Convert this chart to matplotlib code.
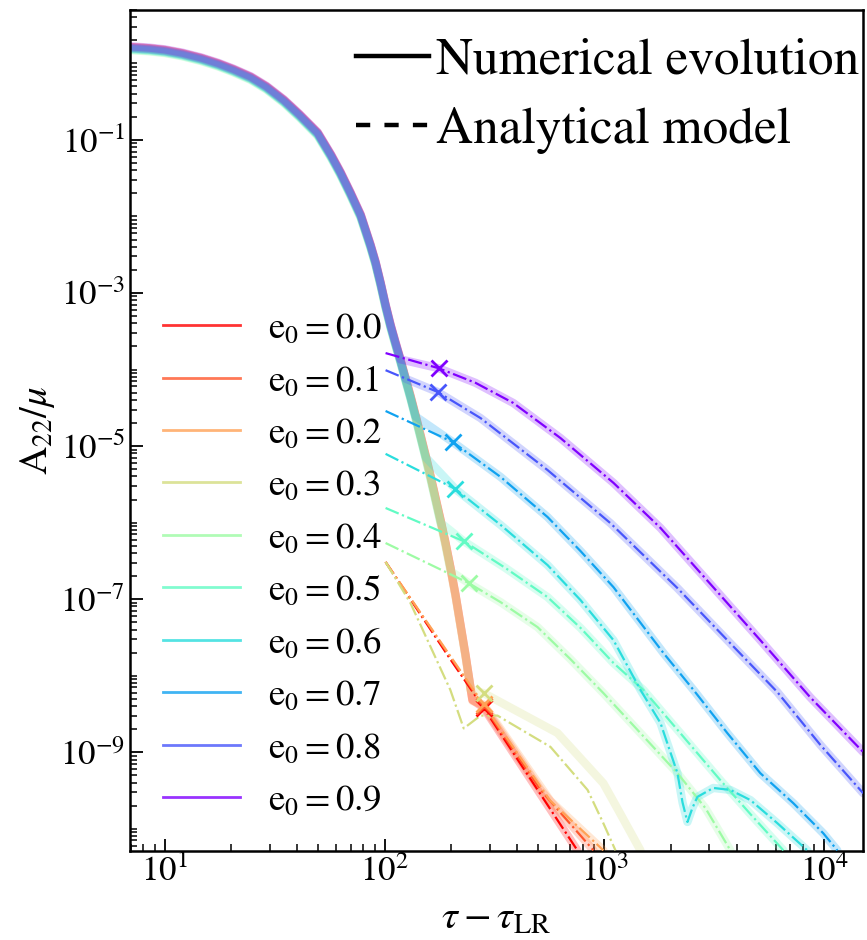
import matplotlib
matplotlib.use("Agg")
import matplotlib.pyplot as plt
from matplotlib.lines import Line2D
from matplotlib.ticker import FixedLocator, LogLocator, NullFormatter, LogFormatterSciNotation
import numpy

plt.rcParams["mathtext.fontset"] = "stix"
plt.rcParams["font.family"] = ["STIXGeneral", "DejaVu Serif"]

ecc = [0.0, 0.1, 0.2, 0.3, 0.4, 0.5, 0.6, 0.7, 0.8, 0.9]

# merger-ringdown part, common to all runs
merger_t = [7.0, 8.5, 10, 12, 14.6, 17.5, 20.5, 24.6, 29, 34.8, 41, 49.6, 57,
            63, 70, 77.8, 86.3, 90.9, 95.9, 101, 106.4, 112.2, 118.2, 124.5,
            131.2, 138.2, 145.7, 153.5, 161.8, 170.5, 179.7, 189.3, 199.5,
            210.2, 221.5, 233.4, 246, 251]
merger_amp = [1.64, 1.58, 1.50, 1.36, 1.18, 1.0, 0.84, 0.667, 0.50, 0.333,
              0.215, 0.124, 0.064, 0.0377, 0.0203, 0.0105, 4.23e-3, 2.54e-3,
              1.35e-3, 6.97e-4, 3.82e-4, 2.22e-4, 1.33e-4, 7.74e-5, 4.51e-5,
              2.54e-5, 1.39e-5, 7.63e-6, 4.05e-6, 2.09e-6, 1.08e-6, 5.40e-7,
              2.54e-7, 1.13e-7, 4.57e-8, 1.85e-8, 6.87e-9, 4.8e-9]
# small spread of the runs in the merger bundle
merger_scale = [1.0, 1.0, 0.97, 0.95, 0.91, 0.92, 0.94, 0.96, 0.98, 1.02]
# last merger time kept by each run before it goes onto its tail
merger_end = [251, 251, 251, 246, 199.5, 179.7, 153.5, 138.2, 124.5, 118.2]

# analytical tails
ana_t_00 = [101, 200, 282, 753]
ana_a_00 = [3.05e-7, 1.6e-8, 3.8e-9, 5.2e-11]
ana_t_01 = [101, 282, 512, 891]
ana_a_01 = [3.05e-7, 4.0e-9, 3.2e-10, 5.2e-11]
ana_t_02 = [101, 282, 568, 989]
ana_a_02 = [3.05e-7, 4.2e-9, 2.3e-10, 5.2e-11]
ana_t_03 = [101, 131, 199, 229, 273, 326, 568, 838, 989, 1122]
ana_a_03 = [3.05e-7, 8.9e-8, 6.5e-9, 2.04e-9, 3.0e-9, 3.0e-9, 1.17e-9,
            3.2e-10, 1.17e-10, 5.2e-11]
ana_t_04 = [101, 241, 337, 496, 700, 989, 1458, 2148, 2880, 3740]
ana_a_04 = [5.4e-7, 1.62e-7, 9.1e-8, 4.3e-8, 1.64e-8, 5.9e-9, 1.77e-9,
            5.3e-10, 1.85e-10, 5.2e-11]
ana_t_05 = [101, 229, 355, 551, 778, 1099, 1503, 2213, 3365, 4610, 6515]
ana_a_05 = [1.55e-6, 5.7e-7, 2.54e-7, 1.06e-7, 4.2e-8, 1.46e-8, 6.5e-9,
            1.77e-9, 4.3e-10, 1.55e-10, 5.2e-11]
ana_t_06 = [101, 210, 337, 551, 778, 1099, 1458, 1798, 2148, 2265, 2385,
            2512, 2648, 3127, 3740, 4610, 6110, 8370]
ana_a_06 = [7.9e-6, 2.74e-6, 9.3e-7, 2.78e-7, 9.7e-8, 2.9e-8, 6.5e-9, 2.4e-9,
            5.3e-10, 2.2e-10, 1.22e-10, 1.86e-10, 2.6e-10, 3.4e-10, 3.2e-10,
            2.36e-10, 1.18e-10, 5.2e-11]
ana_t_07 = [101, 204, 337, 551, 778, 1099, 1855, 2540, 3622, 5117, 7228,
            9890, 11460]
ana_a_07 = [2.87e-5, 1.13e-5, 3.94e-6, 1.18e-6, 4.24e-7, 1.43e-7, 1.97e-8,
            6.5e-9, 1.77e-9, 5.3e-10, 2.15e-10, 8.7e-11, 5.2e-11]
ana_t_08 = [101, 174, 273, 551, 1065, 2148, 3622, 6110, 9600, 15030]
ana_a_08 = [9.8e-5, 5.1e-5, 2.32e-5, 4.85e-6, 9.8e-7, 1.39e-7, 2.9e-8,
            6.1e-9, 1.24e-9, 2.9e-10]
ana_t_09 = [101, 176, 259, 385, 631, 1099, 1798, 3034, 5117, 8630, 15030]
ana_a_09 = [1.64e-4, 1.04e-4, 6.7e-5, 3.65e-5, 1.27e-5, 3.3e-6, 8.5e-7,
            1.57e-7, 2.9e-8, 5.2e-9, 1.0e-9]

# the e0=0.3 run leaves its model curve after the dip
num_t_03 = [282, 611, 989, 1158, 1458]
num_a_03 = [5.9e-9, 1.78e-9, 3.9e-10, 1.73e-10, 5.2e-11]

# matching points
mark_t = [282, 282, 282, 282, 241, 229, 210, 204, 174, 176]
mark_a = [3.8e-9, 4.0e-9, 4.2e-9, 6.0e-9, 1.62e-7, 5.7e-7, 2.74e-6, 1.13e-5,
          5.1e-5, 1.04e-4]

ana_t = [ana_t_00, ana_t_01, ana_t_02, ana_t_03, ana_t_04, ana_t_05, ana_t_06,
         ana_t_07, ana_t_08, ana_t_09]
ana_a = [ana_a_00, ana_a_01, ana_a_02, ana_a_03, ana_a_04, ana_a_05, ana_a_06,
         ana_a_07, ana_a_08, ana_a_09]

fig = plt.figure(figsize=(8.67, 9.4), dpi=100)
ax = fig.add_axes([0.150, 0.0947, 0.8454, 0.8947])

colors = [plt.cm.rainbow(1 - i / 9) for i in range(len(ecc))]

# numerical evolution: thick, faint
for i, e in enumerate(ecc):
    t = [tt for tt in merger_t if tt <= merger_end[i]]
    a = [aa * merger_scale[i] for tt, aa in zip(merger_t, merger_amp)
         if tt <= merger_end[i]]
    if i == 3:
        t += num_t_03
        a += num_a_03
    else:
        for tt, aa in zip(ana_t[i], ana_a[i]):
            if tt >= mark_t[i]:
                t.append(tt)
                a.append(aa)
    ax.plot(t, a, "-", color=colors[i], lw=6, alpha=0.25,
            solid_capstyle="round", solid_joinstyle="round", zorder=2)

# analytical model: thin dash-dot
for i, e in enumerate(ecc):
    ax.plot(ana_t[i], ana_a[i], "-.", color=colors[i], lw=1.6, zorder=3)
    ax.plot(mark_t[i], mark_a[i], "x", color=colors[i], ms=11, mew=2, zorder=4)

ax.set_xscale("log")
ax.set_yscale("log")
ax.set_xlim(6.95, 1.5e4)
ax.set_ylim(5.1e-11, 5.0)

ax.yaxis.set_major_locator(FixedLocator([1e-1, 1e-3, 1e-5, 1e-7, 1e-9]))
ax.yaxis.set_major_formatter(LogFormatterSciNotation())
ax.yaxis.set_minor_locator(LogLocator(base=10, subs=numpy.arange(1, 10), numticks=100))
ax.yaxis.set_minor_formatter(NullFormatter())
ax.xaxis.set_major_locator(FixedLocator([1e1, 1e2, 1e3, 1e4]))
ax.xaxis.set_major_formatter(LogFormatterSciNotation())
ax.xaxis.set_minor_locator(LogLocator(base=10, subs=numpy.arange(2, 10), numticks=100))
ax.xaxis.set_minor_formatter(NullFormatter())

ax.tick_params(which="both", direction="in", labelsize=25, top=False, right=False)
ax.tick_params(which="major", length=9, width=1.3)
ax.tick_params(which="minor", length=5, width=1.1)
for s in ax.spines.values():
    s.set_linewidth(1.8)

ax.set_xlabel(r"$\tau - \tau_{\mathrm{LR}}$", fontsize=29, labelpad=8)
ax.set_ylabel(r"$\mathrm{A_{22}}/\mu$", fontsize=28, labelpad=2)

# legend for line styles
style_handles = [Line2D([], [], color="k", lw=3.2, ls="-"),
                 Line2D([], [], color="k", lw=3.2, ls=(0, (3.2, 3.2)))]
leg1 = ax.legend(style_handles, ["Numerical evolution", "Analytical model"],
                 loc="upper right", bbox_to_anchor=(0.995, 0.967),
                 frameon=False, fontsize=37, handlelength=1.42,
                 handletextpad=0.14, labelspacing=0.44, borderpad=0,
                 borderaxespad=0)
ax.add_artist(leg1)

# legend for eccentricities
ecc_handles = [Line2D([], [], color=colors[i], lw=2, alpha=0.8)
               for i in range(len(ecc))]
ecc_labels = [r"$\mathrm{e_0 = %.1f}$" % e for e in ecc]
ax.legend(ecc_handles, ecc_labels, loc="upper left",
          bbox_to_anchor=(0.045, 0.641), frameon=False, fontsize=26.5,
          handlelength=2.09, handletextpad=0.76, labelspacing=0.505,
          borderpad=0, borderaxespad=0)

plt.savefig("out.png", dpi=100)
